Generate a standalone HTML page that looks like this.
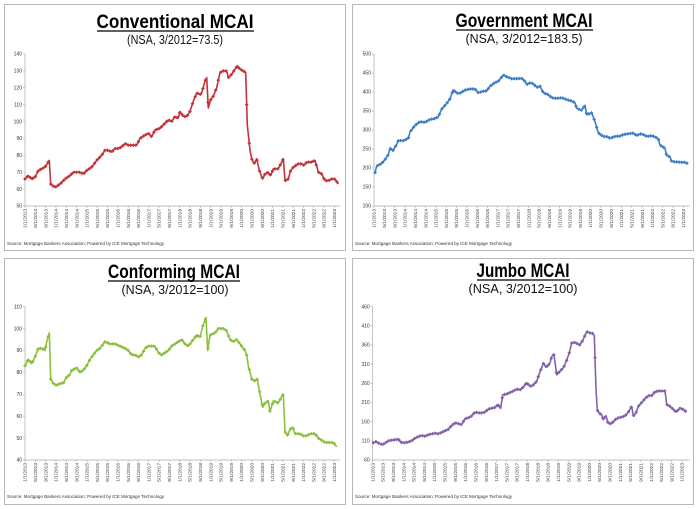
<!DOCTYPE html>
<html><head><meta charset="utf-8"><style>
html,body{margin:0;padding:0;background:#fff;}
svg{display:block;font-family:"Liberation Sans",sans-serif;}
</style></head><body>
<svg id="s" width="700" height="509" viewBox="0 0 700 509" xmlns="http://www.w3.org/2000/svg">
<rect width="700" height="509" fill="#fff"/>
<rect x="4.5" y="4.5" width="341" height="246" fill="#fff" stroke="#b8b8b8"/>
<rect x="352.5" y="4.5" width="341" height="246" fill="#fff" stroke="#b8b8b8"/>
<rect x="4.5" y="258.5" width="341" height="246" fill="#fff" stroke="#b8b8b8"/>
<rect x="352.5" y="258.5" width="341" height="246" fill="#fff" stroke="#b8b8b8"/>
<g font-weight="bold" font-size="19" text-anchor="middle" fill="#000">
<text x="175" y="28" textLength="157" lengthAdjust="spacingAndGlyphs">Conventional MCAI</text>
<text x="524" y="27" textLength="137" lengthAdjust="spacingAndGlyphs">Government MCAI</text>
<text x="174" y="278" textLength="132" lengthAdjust="spacingAndGlyphs">Conforming MCAI</text>
<text x="523" y="277" textLength="93" lengthAdjust="spacingAndGlyphs">Jumbo MCAI</text>
</g>
<g stroke="#000" stroke-width="1.3">
<line x1="97" y1="31" x2="254" y2="31"/>
<line x1="456" y1="30" x2="593" y2="30"/>
<line x1="108" y1="281" x2="240" y2="281"/>
<line x1="477" y1="280" x2="570" y2="280"/>
</g>
<g font-size="12.5" text-anchor="middle" fill="#111">
<text x="175" y="44" textLength="96" lengthAdjust="spacingAndGlyphs">(NSA, 3/2012=73.5)</text>
<text x="524" y="43" textLength="117" lengthAdjust="spacingAndGlyphs">(NSA, 3/2012=183.5)</text>
<text x="175" y="294" textLength="107" lengthAdjust="spacingAndGlyphs">(NSA, 3/2012=100)</text>
<text x="523" y="293" textLength="109" lengthAdjust="spacingAndGlyphs">(NSA, 3/2012=100)</text>
</g>
<g font-size="4.5" fill="#333">
<text x="7" y="245" textLength="157" lengthAdjust="spacingAndGlyphs">Source: Mortgage Bankers Association; Powered by ICE Mortgage Technology</text>
<text x="355" y="245" textLength="157" lengthAdjust="spacingAndGlyphs">Source: Mortgage Bankers Association; Powered by ICE Mortgage Technology</text>
<text x="7" y="498" textLength="157" lengthAdjust="spacingAndGlyphs">Source: Mortgage Bankers Association; Powered by ICE Mortgage Technology</text>
<text x="355" y="498" textLength="157" lengthAdjust="spacingAndGlyphs">Source: Mortgage Bankers Association; Powered by ICE Mortgage Technology</text>
</g>
<g id="charts"></g>
</svg>
<script>
var NS="http://www.w3.org/2000/svg";
var g=document.getElementById("charts");
function el(t,a,txt){var e=document.createElementNS(NS,t);for(var k in a)e.setAttribute(k,a[k]);if(txt!=null)e.textContent=txt;g.appendChild(e);return e;}
function chart(ox,oy,x0,top,bot,ymin,ymax,step,color,kp){
  var X0=ox+x0/3, xEnd=ox+1013/3, ytop=oy+top/3, ybot=oy+bot/3;
  function Y(v){return ybot-(v-ymin)/(ymax-ymin)*(ybot-ytop);}
  el("line",{x1:X0,y1:ytop,x2:X0,y2:ybot,stroke:"#aaa","stroke-width":0.7});
  el("line",{x1:X0,y1:ybot,x2:xEnd+2,y2:ybot,stroke:"#aaa","stroke-width":0.7});
  for(var v=ymin;v<=ymax+0.001;v+=step){
    var y=Y(v);
    el("line",{x1:X0-2,y1:y,x2:X0,y2:y,stroke:"#aaa","stroke-width":0.6});
    el("text",{x:X0-3,y:y+1.7,"font-size":5,"text-anchor":"end",fill:"#333"},String(v));
  }
  var sp=(1003-75)/3/30;
  var mons=["1","5","9"];
  for(var i=0;i<31;i++){
    var x=X0+i*sp;
    var yr=2013+Math.floor(i/3);
    var lab=mons[i%3]+"/1/"+yr;
    el("line",{x1:x,y1:ybot,x2:x,y2:ybot+2,stroke:"#aaa","stroke-width":0.6});
    el("text",{x:0,y:0,"font-size":4.8,"text-anchor":"end",fill:"#333",transform:"translate("+(x+1.7)+","+(ybot+3)+") rotate(-90)"},lab);
  }
  var d=kp.map(function(p,i){return (i?"L":"M")+(ox+p[0]/3).toFixed(1)+","+Y(p[1]).toFixed(1);}).join("");
  el("path",{d:d,fill:"none",stroke:color,"stroke-width":1.6,"stroke-linejoin":"round"});
  var pts=[];
  var mstep=sp/4*3;
  for(var zx=kp[0][0];zx<=kp[kp.length-1][0]+0.01;zx+=mstep){
    var j=0;while(j<kp.length-2&&kp[j+1][0]<zx)j++;
    var a=kp[j],b=kp[j+1];var t=(zx-a[0])/(b[0]-a[0]);t=Math.max(0,Math.min(1,t));
    pts.push([ox+zx/3,Y(a[1]+(b[1]-a[1])*t)]);
  }
  pts.forEach(function(p){
    el("path",{d:"M"+(p[0]-1.9)+","+p[1]+"L"+p[0]+","+(p[1]-1.9)+"L"+(p[0]+1.9)+","+p[1]+"L"+p[0]+","+(p[1]+1.9)+"Z",fill:color});
  });
}
function P(s){return s.split(",").map(function(q){var a=q.split(":");return [+a[0],+a[1]];});}
chart(0,0,75,162,618,50,140,10,"#c0343a",P("75:66,85:68,95:66,105:67,115:71,125:72,135:73,148:77,152:63,165:61,180:63,195:66,210:68,220:70,240:70,250:69,260:71,275:73,290:77,305:80,315:83,325:83,335:82,345:84,355:84,365:85,375:87,385:86,395:86,410:86,420:90,435:92,445:93,455:91,465:95,480:96,495:99,505:101,515:100,525:103,535:102,540:106,550:103,560:103,570:106,580:112,590:117,600:116,605:117,615:124,620:126,625:108,632:113,640:115,650:120,660:129,670:130,680:130,685:126,695:128,705:131,712:133,720:131,730:130,737:129,742:98,750:83,755:78,762:75,770:78,778:71,788:66,795:69,805:70,812:68,820:72,835:72,845:76,850:78,855:65,865:66,872:71,880:73,895:75,905:75,912:74,920:76,935:76,945:77,955:70,965:69,975:65,985:65,995:66,1005:66,1015:63"));
chart(350,0,72,162,618,100,500,50,"#3f7fc8",P("75:188,80:205,95:212,105:222,115:235,120:252,128:245,140:262,145:272,160:272,175:278,180:295,195:312,210:322,225:320,240:328,255:330,265:335,275:355,290:370,300:382,310:406,320:397,330:397,345:405,360:408,375:408,385:398,400:402,410:403,420:415,435:425,445:428,460:445,470:440,485:435,500:435,515:436,525:428,530:420,540:424,550:422,560:412,570:415,580:398,595:393,605:385,620:383,635:385,650:380,665:376,675:372,680:357,695:352,705:365,710:340,725:345,735:322,745:292,760:283,775:282,780:278,795:283,810:284,820:288,835:290,850:292,860:285,870:290,880:288,890:283,905:285,915:282,925:277,930:260,945:252,950:232,960:230,965:217,980:216,995:215,1005:215,1012:212"));
chart(0,255,75,155,615,40,110,10,"#8cbf3f",P("75:83,85:86,95:84,105:87,115:91,125:91,135:90,140:94,148:98,152:77,160:75,170:74,180:75,190:75,200:78,210:79,215:81,230:82,240:80,250:81,260:83,270:86,280:88,290:90,300:91,315:94,330:93,345:93,360:92,375:91,385:90,395:88,405:88,415:87,425:88,435:91,445:92,455:92,465:92,475:89,485:88,495:89,505:90,515:92,525:93,535:94,545:95,555:93,565:92,575:94,590:97,600:96,608:101,618:105,623:90,630:97,645:98,655:100,670:100,680:99,690:95,700:94,710:95,720:93,735:90,740:88,745:83,755:77,765:76,772:77,780:70,788:64,795:66,805:67,810:62,820:67,835:66,845:69,850:70,855:53,862:51,870:54,878:55,885:52,900:52,910:51,920:51,930:52,945:52,955:50,965:49,975:48,985:48,1000:48,1010:46"));
chart(350,255,68,155,615,60,460,50,"#8462a8",P("70:105,78:108,88:103,98:100,108:106,118:111,128:112,138:113,145:115,152:106,165:105,175:107,185:110,195:117,205:121,215:124,225:122,235:126,245:128,255:130,265:128,275:132,285:136,295:140,305:150,315:157,325:155,335:152,345:168,355:170,365:175,375:185,385:183,395:183,405:185,415:193,425:195,435:197,445:205,452:195,458:230,470:232,480:236,490:240,500:245,510:243,520:250,530:262,540:252,550:256,560:265,570:290,580:312,590:302,600:313,605:330,612:335,620:282,630:292,640:300,650:320,658:340,665:365,675:367,685:362,690:360,700:375,710:395,718:392,728:390,733:385,738:245,742:190,748:182,755:178,760:165,768:175,775:155,785:155,795:165,805:170,815:172,825:175,835:185,845:200,850:175,858:183,865:200,875:210,885:220,895:228,905:228,915:238,925:240,935:240,945:240,950:205,960:200,970:192,978:185,990:195,1000:192,1010:185"));
</script>
</body></html>
